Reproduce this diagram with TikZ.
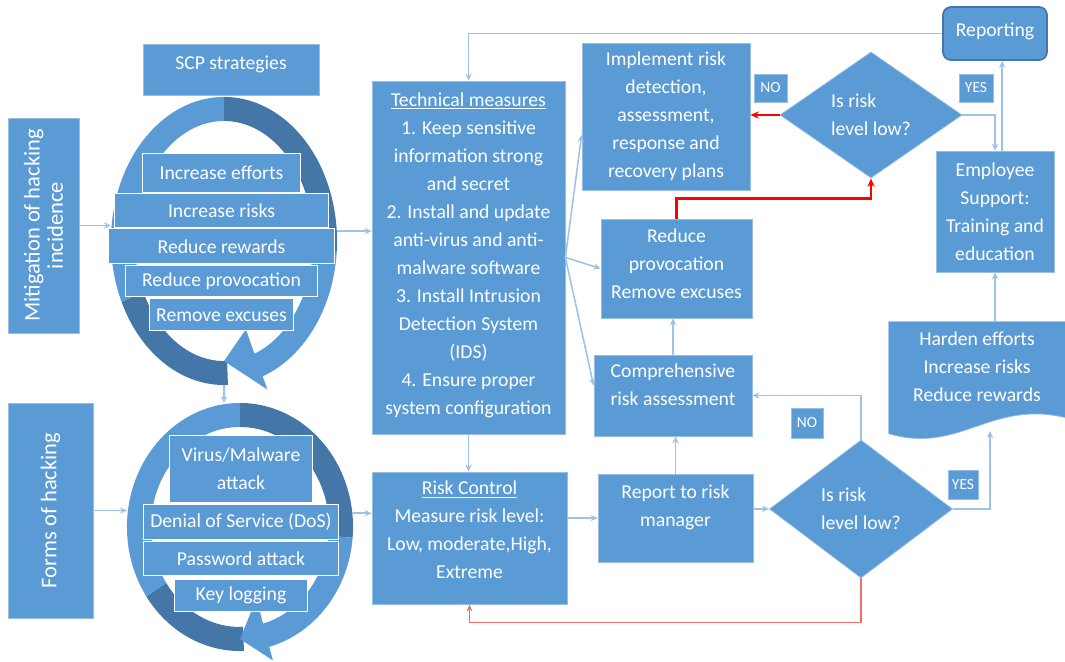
\documentclass[tikz,border=0pt]{standalone}
\usepackage{fontspec}
\setmainfont{Carlito}
\usetikzlibrary{
  shapes.geometric,
  arrows.meta,
  positioning,
  calc
}
\definecolor{scpblue}{RGB}{91,155,213}
\definecolor{scpdark}{RGB}{68,118,168}
\definecolor{scpline}{RGB}{157,195,230}
\definecolor{scpedge}{RGB}{150,190,230}
\definecolor{scpred}{RGB}{255,0,0}
\definecolor{scpredl}{RGB}{242,110,110}
\tikzset{
  box/.style={
    rectangle, fill=scpblue, draw=scpedge, line width=0.5pt,
    text=white, align=center, inner sep=2pt
  },
  ringitem/.style={box, draw=white, line width=0.7pt},
  sidebox/.style={box, rotate=90, font=\fontsize{16}{16.5}\selectfont},
  decision/.style={
    diamond, fill=scpblue, draw=scpedge, line width=0.5pt,
    text=white, align=left, inner sep=0pt, aspect=1.4
  },
  tag/.style={box, font=\fontsize{11}{13}\selectfont, inner sep=0pt},
  ring/.style={ellipse, inner sep=0pt, outer sep=0pt},
  arrow/.style={-{Stealth[length=5pt,width=4.5pt]}, line width=1.1pt, color=scpline},
  arrowR/.style={-{Stealth[length=6pt,width=5pt]}, line width=1.8pt, color=scpred},
  arrowRl/.style={-{Stealth[length=5pt,width=4pt]}, line width=1.1pt, color=scpredl}
}

\begin{document}
\begin{tikzpicture}[x=0.025cm, y=-0.025cm, font=\fontsize{14}{19.9}\selectfont]
  \useasboundingbox (0,0) rectangle (1065,662);
  \fill[white] (0,0) rectangle (1065,662);

  % Left column: SCP strategies and forms of hacking
  \node[sidebox, minimum width=5.375cm, minimum height=1.775cm]
    (mitig) at (43.5,225.5) {Mitigation of hacking\\incidence};
  \node[sidebox, minimum width=5.375cm, minimum height=2.125cm]
    (forms) at (50.5,510.5) {Forms of hacking};
  \node[box, minimum width=4.4cm, minimum height=1.275cm]
    (scp) at (231,69.5) {\raisebox{0.33cm}{SCP strategies}};

  \node[ring, minimum width=5.65cm, minimum height=7.2cm] (ringT) at (224,241) {};
  \node[ring, minimum width=5.65cm, minimum height=6.2cm] (ringB) at (240,527) {};

  % circular arrows
  \foreach \rg/\ob/\ib/\wb/\vb/\tb/\lo/\ar in
    {ringT/3.6/3.0/3.95/2.35/3.0/205/-70, ringB/3.1/2.5/3.45/1.85/2.8/214/-75}{
    \begin{scope}[shift={(\rg.center)}]
      \fill[scpdark] (90:2.825cm and \ob cm)
        arc[start angle=90, end angle=-5, x radius=2.825cm, y radius=\ob cm]
        -- (-5:2.225cm and \ib cm)
        arc[start angle=-5, end angle=90, x radius=2.225cm, y radius=\ib cm] -- cycle;
      \fill[scpdark] (\lo:2.825cm and \ob cm)
        arc[start angle=\lo, end angle=272, x radius=2.825cm, y radius=\ob cm]
        -- (272:2.225cm and \ib cm)
        arc[start angle=272, end angle=\lo, x radius=2.225cm, y radius=\ib cm] -- cycle;
      \fill[scpblue] (90:2.825cm and \ob cm)
        arc[start angle=90, end angle=\lo, x radius=2.825cm, y radius=\ob cm]
        -- (\lo:2.225cm and \ib cm)
        arc[start angle=\lo, end angle=90, x radius=2.225cm, y radius=\ib cm] -- cycle;
      \fill[scpblue] (-5:2.825cm and \ob cm)
        arc[start angle=-5, end angle=\ar, x radius=2.825cm, y radius=\ob cm]
        -- (\ar:3.175cm and \wb cm) -- (-90:2.45cm and \tb cm)
        -- (\ar:1.6cm and \vb cm) -- (\ar:2.225cm and \ib cm)
        arc[start angle=\ar, end angle=-5, x radius=2.225cm, y radius=\ib cm] -- cycle;
    \end{scope}
  }

  \node[ringitem, minimum width=3.925cm, minimum height=0.975cm]
    (incE) at (221.5,172.5) {Increase efforts};
  \node[ringitem, below=0.025cm of incE, minimum width=5.35cm, minimum height=0.825cm]
    (incR) {Increase risks};
  \node[ringitem, below=0.025cm of incR, minimum width=5.65cm, minimum height=0.875cm]
    (redR) {Reduce rewards};
  \node[ringitem, below=0.025cm of redR, minimum width=4.8cm, minimum height=0.775cm]
    (redP) {Reduce provocation};
  \node[ringitem, below=0.025cm of redP, minimum width=3.6cm, minimum height=0.8cm]
    (remE) {Remove excuses};

  \node[ringitem, minimum width=3.55cm, minimum height=1.675cm]
    (virus) at (241,468.5) {Virus/Malware\\attack};
  \node[ringitem, below=0.025cm of virus, minimum width=4.85cm, minimum height=0.875cm]
    (dos) {Denial of Service (DoS)};
  \node[ringitem, below=0.05cm of dos, minimum width=4.85cm, minimum height=0.825cm]
    (pwd) {Password attack};
  \node[ringitem, below=0.1cm of pwd, minimum width=3.325cm, minimum height=0.775cm]
    (keylog) {Key logging};

  % Middle column
  \node[box, text depth=0.2cm, minimum width=4.825cm, minimum height=8.825cm]
    (tech) at (468.5,257.5)
    {\underline{Technical measures}\\1. Keep sensitive\\information strong\\and secret\\
     2. Install and update\\anti-virus and anti-\\malware software\\
     3. Install Intrusion\\Detection System\\(IDS)\\4. Ensure proper\\system configuration};
  \node[box, text depth=0.4cm, minimum width=4.875cm, minimum height=3.3cm]
    (riskctrl) at (469.5,538)
    {\underline{Risk Control}\\Measure risk level:\\Low, moderate,High,\\Extreme};

  % Risk handling column
  \node[box, minimum width=4.2cm, minimum height=3.675cm] (implement) at (666,116.5)
    {Implement risk\\detection,\\assessment,\\response and\\recovery plans};
  \node[box, text depth=0.25cm, minimum width=3.775cm, minimum height=2.475cm]
    (reduceprov) at (676.5,268.5) {Reduce\\provocation\\Remove excuses};
  \node[box, text depth=0.55cm, minimum width=3.95cm, minimum height=2.025cm]
    (compr) at (673,395.5) {Comprehensive\\risk assessment};
  \node[box, text depth=0.6cm, minimum width=3.875cm, minimum height=2.2cm]
    (report) at (675.5,518) {Report to risk\\manager};

  \node[decision, minimum width=4.55cm, minimum height=3.15cm] (diamT) at (871,115)
    {Is risk\\level low?};
  \node[decision, minimum width=4.575cm, minimum height=3.45cm] (diamB) at (861,509)
    {Is risk\\level low?};

  % Right column
  \node[box, rounded corners=0.2cm, draw=scpdark, line width=1.2pt,
    minimum width=2.6cm, minimum height=1.325cm] (reporting) at (995,33.5)
    {\raisebox{0.18cm}{Reporting}};
  \node[box, minimum width=2.95cm, minimum height=3.025cm] (emp) at (995,211.5)
    {Employee\\Support:\\Training and\\education};
  \node[box, draw=none, fill=none, minimum width=4.4cm, minimum height=2.25cm]
    (harden) at (977,367) {};
  \fill[scpblue, draw=scpedge, line width=0.5pt] (harden.north west) -- (harden.north east)
    -- ++(0,96) .. controls +(-75,-18) and +(71,21) .. ([yshift=-2.8cm]harden.north west)
    -- cycle;
  \node[text=white, align=center] at (harden) {Harden efforts\\Increase risks\\Reduce rewards};
  \coordinate (hardenbot) at (990,431);

  % YES / NO tags
  \node[tag, minimum width=0.825cm, minimum height=0.7cm] (noT) at (770.5,88) {NO};
  \node[tag, minimum width=0.85cm, minimum height=0.7cm] (yesT) at (976,88) {YES};
  \node[tag, minimum width=0.8cm, minimum height=0.75cm] (noB) at (807,423) {NO};
  \node[tag, minimum width=0.75cm, minimum height=0.725cm] (yesB) at (963,484.5) {YES};

  % Connectors
  \draw[arrow] (mitig.south) -- (mitig.south -| ringT.west);
  \draw[arrow] (ringT.5) -- (ringT.5 -| tech.west);
  \draw[arrow] (ringT.south) -- (ringT.south |- ringB.north);
  \draw[arrow] (forms.south) -- (forms.south -| ringB.west);
  \draw[arrow] (ringB.7) -- (ringB.7 -| riskctrl.west);
  \draw[arrow] (reporting.west) -| (tech.north);
  \draw[arrow] (tech.south) -- (tech.south |- riskctrl.north);
  \draw[arrow] (tech.east) -- ([yshift=-0.46cm]implement.west);
  \draw[arrow] (tech.east) -- (reduceprov.west);
  \draw[arrow] (tech.east) -- ([yshift=0.25cm]compr.west);
  \draw[arrow] (riskctrl.east |- report.west) -- (report.west);
  \draw[arrow] (report.north) -- (report.north |- compr.south);
  \draw[arrow] (compr.north) -- (compr.north |- reduceprov.south);
  \draw[arrow] (report.east |- diamB.west) -- (diamB.west);
  \draw[arrow] (diamB.north) |- (compr.east);
  \draw[arrow] (diamB.east) -| (hardenbot);
  \draw[arrow] (emp.south |- harden.north) -- (emp.south);
  \draw[arrow] ([xshift=0.18cm]emp.north) -- ([xshift=0.18cm]emp.north |- reporting.south);
  \draw[arrow] (diamT.east) -| (emp.north);
  \draw[arrowR] (diamT.west) -- (diamT.west -| implement.east);
  \draw[arrowR] (reduceprov.north) -- ++(0,-20) -| (diamT.south);
  \draw[arrowRl] (diamB.south) -- ++(0,44) -| (riskctrl.south);
\end{tikzpicture}
\end{document}
